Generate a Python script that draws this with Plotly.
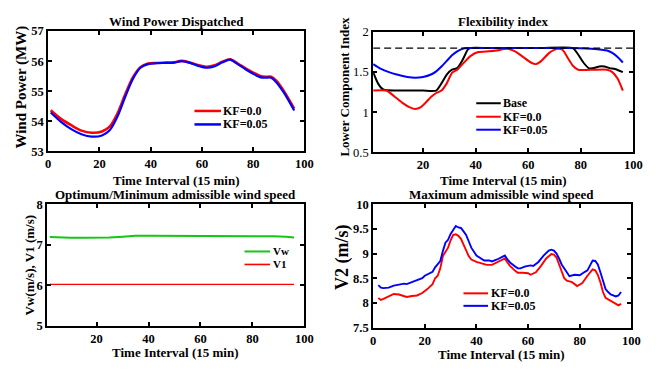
import plotly.graph_objects as go

W, H = 661, 373

# ---------------- Data ----------------
# Panel 1: Wind Power Dispatched
p1_x = [1, 5, 9, 13, 17, 21, 24, 27, 30, 33, 36, 39, 42, 46, 49, 52, 55, 58, 62, 65, 68, 71, 74, 77, 80, 83, 85, 87, 89, 92, 96]
p1_kf0 = [54.37, 54.08, 53.87, 53.69, 53.62, 53.66, 53.82, 54.25, 54.88, 55.45, 55.80, 55.92, 55.94, 55.95, 55.96, 56.01,
          55.96, 55.88, 55.81, 55.86, 55.98, 56.06, 55.92, 55.76, 55.62, 55.50, 55.48, 55.48, 55.35, 55.00, 54.42]
p1_kf05 = [54.29, 53.98, 53.74, 53.57, 53.49, 53.53, 53.70, 54.15, 54.80, 55.40, 55.78, 55.90, 55.93, 55.94, 55.95, 56.00,
           55.95, 55.86, 55.78, 55.83, 55.96, 56.05, 55.90, 55.73, 55.58, 55.46, 55.45, 55.45, 55.30, 54.95, 54.36]

# Panel 2: Flexibility index
p2_base_x = [1, 3, 5, 10, 15, 20, 25, 27, 29, 31, 33, 35, 37, 38, 45, 55, 65, 77, 79, 81, 83, 85, 87, 89, 91, 93, 96]
p2_base = [1.50, 1.35, 1.28, 1.27, 1.27, 1.27, 1.27, 1.36, 1.47, 1.53, 1.55, 1.65, 1.78, 1.80, 1.80, 1.80, 1.80, 1.80,
           1.72, 1.62, 1.55, 1.55, 1.57, 1.57, 1.55, 1.54, 1.50]
p2_kf0_x = [1, 6, 9, 12, 15, 17, 19, 21, 23, 25, 27, 29, 31, 33, 35, 38, 41, 45, 48, 52, 55, 58, 61, 63, 65, 68, 71, 73,
            75, 77, 79, 85, 90, 92, 94, 96]
p2_kf0 = [1.27, 1.27, 1.20, 1.12, 1.06, 1.04, 1.06, 1.12, 1.19, 1.24, 1.27, 1.36, 1.49, 1.53, 1.60, 1.70, 1.75, 1.76,
          1.77, 1.79, 1.76, 1.69, 1.62, 1.60, 1.64, 1.74, 1.79, 1.78, 1.68, 1.58, 1.53, 1.53, 1.53, 1.50, 1.42, 1.27]
p2_kf05_x = [1, 4, 7, 10, 14, 17, 20, 23, 25, 27, 29, 31, 33, 35, 37, 45, 60, 75, 84, 88, 90, 92, 94, 96]
p2_kf05 = [1.60, 1.54, 1.50, 1.47, 1.44, 1.43, 1.44, 1.47, 1.51, 1.57, 1.64, 1.71, 1.76, 1.79, 1.80, 1.80, 1.80, 1.80,
           1.79, 1.78, 1.77, 1.74, 1.69, 1.62]
p2_limit_x = [1, 100]
p2_limit = [1.8, 1.8]

# Panel 3: Optimum/Minimum admissible wind speed
p3_x = [2, 5, 10, 15, 20, 25, 30, 35, 40, 50, 60, 70, 80, 88, 93, 96]
p3_vw = [7.19, 7.18, 7.17, 7.17, 7.17, 7.18, 7.20, 7.22, 7.22, 7.22, 7.22, 7.22, 7.22, 7.21, 7.20, 7.18]
p3_v1_x = [2, 96]
p3_v1 = [6.02, 6.02]

# Panel 4: Maximum admissible wind speed
p4_kf05_x = [2, 3, 4, 6, 8, 10, 12, 13, 15, 17, 19, 20, 22, 23, 24, 25, 26, 27, 28, 29, 30, 31, 32, 33, 34, 35, 36, 37,
             38, 40, 42, 43, 45, 46, 48, 50, 51, 52, 53, 55, 56, 57, 59, 61, 62, 64, 66, 68, 69, 70, 71, 72, 73, 75, 76,
             78, 80, 82, 83, 84, 85, 86, 87, 88, 89, 90, 91, 92, 94, 95, 96]
p4_kf05 = [8.36, 8.31, 8.30, 8.31, 8.35, 8.37, 8.39, 8.38, 8.42, 8.45, 8.50, 8.55, 8.60, 8.63, 8.72, 8.78, 8.85, 9.05,
           9.22, 9.28, 9.40, 9.48, 9.56, 9.53, 9.52, 9.45, 9.38, 9.25, 9.12, 8.96, 8.90, 8.86, 8.86, 8.84, 8.88, 8.93,
           8.96, 8.88, 8.82, 8.74, 8.70, 8.70, 8.74, 8.76, 8.75, 8.83, 8.96, 9.06, 9.08, 9.06, 9.00, 8.90, 8.78, 8.62,
           8.54, 8.57, 8.56, 8.63, 8.66, 8.76, 8.86, 8.85, 8.78, 8.62, 8.45, 8.28, 8.22, 8.17, 8.13, 8.15, 8.22]
p4_kf0_x = [2, 3, 4, 6, 8, 10, 12, 13, 15, 17, 19, 21, 23, 24, 25, 26, 27, 28, 29, 30, 31, 32, 33, 34, 35, 36, 37, 38,
            40, 42, 44, 46, 48, 50, 51, 52, 53, 55, 56, 58, 60, 61, 63, 65, 67, 69, 70, 71, 72, 73, 74, 75, 77, 79, 81,
            83, 84, 85, 86, 87, 88, 89, 90, 92, 94, 95, 96]
p4_kf0 = [8.10, 8.06, 8.08, 8.13, 8.18, 8.17, 8.14, 8.12, 8.14, 8.15, 8.20, 8.28, 8.38, 8.50, 8.55, 8.70, 8.95, 9.03,
          9.12, 9.27, 9.38, 9.39, 9.36, 9.30, 9.17, 9.05, 8.95, 8.88, 8.83, 8.80, 8.77, 8.77, 8.82, 8.88, 8.90, 8.82,
          8.75, 8.65, 8.61, 8.61, 8.60, 8.57, 8.62, 8.75, 8.90, 8.99, 8.98, 8.92, 8.78, 8.62, 8.50, 8.45, 8.42, 8.34,
          8.40, 8.55, 8.62, 8.68, 8.66, 8.57, 8.42, 8.22, 8.10, 8.04, 7.97, 7.95, 7.98]

# ---------------- Styling ----------------
FONT = "Liberation Serif"
RED, BLUE, BLACK, GREEN = "#ff0000", "#0000ff", "#000000", "#12c812"

def px_x(p):
    return p / W

def px_y(p):
    return 1 - p / H

# panel boxes in pixels: (left, right, top, bottom)
boxes = {
    1: (46, 307, 25, 150),
    2: (377, 642, 26, 151),
    3: (45, 307, 205, 331),
    4: (377, 640, 205, 333),
}

fig = go.Figure()

def add(xs, ys, color, width, k, shape="spline", dash="solid", smoothing=0.8):
    xa = "x" if k == 1 else f"x{k}"
    ya = "y" if k == 1 else f"y{k}"
    line = dict(color=color, width=width, dash=dash, shape=shape)
    if shape == "spline":
        line["smoothing"] = smoothing
    fig.add_trace(go.Scatter(x=xs, y=ys, mode="lines", line=line, xaxis=xa, yaxis=ya,
                             showlegend=False, hoverinfo="skip"))

add(p1_x, p1_kf0, RED, 2.6, 1)
add(p1_x, p1_kf05, BLUE, 2.2, 1)

add(p2_base_x, p2_base, BLACK, 2, 2, smoothing=0.6)
add(p2_kf0_x, p2_kf0, RED, 2, 2, smoothing=0.6)
add(p2_kf05_x, p2_kf05, BLUE, 2, 2, smoothing=0.6)
add(p2_limit_x, p2_limit, BLACK, 1.3, 2, shape="linear", dash="7px,4px")

add(p3_x, p3_vw, GREEN, 2, 3, shape="linear")
add(p3_v1_x, p3_v1, RED, 1.4, 3, shape="linear")

add(p4_kf0_x, p4_kf0, RED, 1.9, 4, shape="linear")
add(p4_kf05_x, p4_kf05, BLUE, 1.9, 4, shape="linear")

axis_common = dict(showline=True, linecolor="black", linewidth=2, mirror="ticks", ticks="inside",
                   ticklen=4, tickwidth=1.5, tickcolor="black", showgrid=False, zeroline=False)

xranges = {1: [0, 100], 2: [1, 100], 3: [1, 100], 4: [0, 100]}
xticks = {1: [0, 20, 40, 60, 80, 100], 2: [20, 40, 60, 80, 100], 3: [20, 40, 60, 80, 100], 4: [0, 20, 40, 60, 80, 100]}
yranges = {1: [53, 57], 2: [0.5, 2], 3: [5, 8], 4: [7.5, 10]}
yticks = {1: [53, 54, 55, 56, 57], 2: [0.5, 1, 1.5, 2], 3: [5, 6, 7, 8], 4: [7.5, 8, 8.5, 9, 9.5, 10]}
yweights = {1: "bold", 2: "normal", 3: "bold", 4: "bold"}

layout = dict(width=W, height=H, margin=dict(l=0, r=0, t=0, b=0), paper_bgcolor="white", plot_bgcolor="white",
              font=dict(family=FONT, color="black"))
for k, (l, r, t, b) in boxes.items():
    xs = "xaxis" if k == 1 else f"xaxis{k}"
    ys = "yaxis" if k == 1 else f"yaxis{k}"
    ya = "y" if k == 1 else f"y{k}"
    xa = "x" if k == 1 else f"x{k}"
    layout[xs] = dict(axis_common, domain=[px_x(l), px_x(r)], range=xranges[k], tickvals=xticks[k],
                      anchor=ya, tickfont=dict(family=FONT, size=12.5, weight="bold", color="black"))
    layout[ys] = dict(axis_common, domain=[px_y(b), px_y(t)], range=yranges[k], tickvals=yticks[k],
                      anchor=xa, tickfont=dict(family=FONT, size=12.5, weight=yweights[k], color="black"))
fig.update_layout(**layout)

def text(x, y, s, size, angle=0, xanchor="center", pad=1):
    fig.add_annotation(x=px_x(x), y=px_y(y), xref="paper", yref="paper", text=s, showarrow=False,
                       textangle=angle, xanchor=xanchor, yanchor="middle", borderpad=pad,
                       font=dict(family=FONT, size=size, weight="bold", color="black"))

# titles
text(176.5, 15, "Wind Power Dispatched", 13)
text(509.5, 15, "Flexibility index", 13)
text(176, 195, "Optimum/Minimum admissible wind speed", 13)
text(508, 195, "Maximum admissible wind speed", 13)
# x-axis titles
text(176.5, 180, "Time Interval (15 min)", 13)
text(509.5, 180, "Time Interval (15 min)", 13)
text(176, 359, "Time Interval (15 min)", 13)
text(508, 361, "Time Interval (15 min)", 13)
# y-axis titles
text(19, 83, "Wind Power (MW)", 15, angle=-90)
text(348, 83, "Lower Component Index", 13, angle=-90)
text(27, 268, "Vw(m/s), V1 (m/s)", 13, angle=-90)
text(346, 260, "V2 (m/s)", 18, angle=-90)

# legends (line sample + label)
def legend_item(x0, x1, y, color, label, width=2.5, size=12):
    fig.add_shape(type="line", xref="paper", yref="paper", x0=px_x(x0), x1=px_x(x1), y0=px_y(y), y1=px_y(y),
                  line=dict(color=color, width=width))
    text(x1 + 1.5, y, label, size, xanchor="left", pad=0)

legend_item(195, 222, 108, RED, "KF=0.0")
legend_item(195, 222, 122, BLUE, "KF=0.05")

legend_item(482, 507, 100, BLACK, "Base", 2)
legend_item(482, 507, 114, RED, "KF=0.0", 2)
legend_item(482, 507, 127.5, BLUE, "KF=0.05", 2)

legend_item(246, 272, 254, GREEN, "Vw", 2, size=11)
legend_item(246, 272, 267.5, RED, "V1", 1.6, size=11)

legend_item(469, 494, 297.5, RED, "KF=0.0", 2)
legend_item(469, 494, 310.5, BLUE, "KF=0.05", 2)

fig.write_html("out.html")
